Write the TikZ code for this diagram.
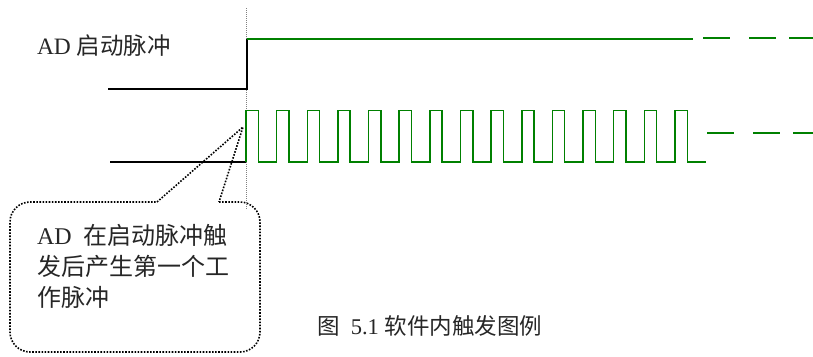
\documentclass[tikz,border=0pt]{standalone}
\usepackage{fontspec}
\setmainfont{Liberation Serif}
\newfontfamily\cjk{Noto Sans CJK SC}
\usepackage{tikz}
\usetikzlibrary{positioning}
\tikzstyle{sigtext}=[
  font={\fontsize{23.5}{28}\selectfont},
  inner sep=0pt,
  outer sep=0pt,
  text=black!85,
]
\tikzstyle{lowline}=[
  draw=black,
  line width=2pt,
]
\tikzstyle{highline}=[
  draw=green!50!black,
  line width=1.8pt,
]
\tikzstyle{pulse}=[
  draw=green!50!black,
  line width=1.5pt,
]
\tikzstyle{tail}=[
  highline,
  dash pattern=on 27pt off 19pt on 27pt off 13pt,
]
\tikzstyle{trigline}=[
  draw=black!50,
  line width=0.8pt,
  dash pattern=on 1pt off 1pt,
]
\tikzstyle{callline}=[
  draw=black,
  line width=1.6pt,
  dash pattern=on 1.6pt off 1.5pt,
]
\tikzstyle{callbox}=[
  rectangle,
  inner sep=0pt,
  outer sep=0pt,
  minimum width=250pt,
  minimum height=150pt,
]
\tikzset{
  x=1pt,
  y=-1pt,
}

\begin{document}
\begin{tikzpicture}
  \useasboundingbox (0,0) rectangle (813,356);
  % trigger instant
  \coordinate (trigtop) at (246,8);
  \coordinate (trigend) at (246,209);
  \draw [trigline] (trigtop) -- (trigend);
  % AD start pulse
  \node (startlabel) [sigtext, anchor=base west] at (37,54) {AD {\cjk 启动脉冲}};
  \coordinate (startlow) at (108,89);
  \coordinate (startedge) at (247,89);
  \coordinate (starthigh) at (247,39);
  \coordinate (startend) at (693,39);
  \coordinate (starttail) at (703,38);
  \coordinate (startout) at (813,38);
  \draw [lowline] (startlow) -- (startedge) -- (starthigh);
  \draw [highline] (starthigh) -- (startend);
  \draw [tail] (starttail) -- (startout);
  % working pulses
  \coordinate (worklow) at (110,162);
  \coordinate (workstart) at (246,162);
  \coordinate (worktail) at (707,133);
  \coordinate (workout) at (813,133);
  \draw [lowline] (worklow) -- (workstart);
  \draw [pulse] (workstart)
    \foreach \i in {1,...,15} { -- ++(0,-51.5) -- ++(12.3,0) -- ++(0,51.5) -- ++(18.34,0) };
  \draw [tail] (worktail) -- (workout);
  % callout
  \node (callbox) [callbox] at (135,277) {};
  \coordinate (calltip) at (243,127);
  \coordinate (callbase1) at (157,202);
  \coordinate (callbase2) at (219,202);
  \draw [callline, rounded corners=20pt] (callbase2) -- (callbox.north east)
    -- (callbox.south east) -- (callbox.south west) -- (callbox.north west) -- (callbase1);
  \draw [callline] (callbase1) -- (calltip) -- (callbase2);
  \node (calltext) [sigtext, font={\fontsize{24}{31}\selectfont}, align=left, anchor=north west]
    at (37,224) {AD\ \ {\cjk 在启动脉冲触}\\{\cjk 发后产生第一个工}\\{\cjk 作脉冲}};
  % caption
  \node (caption) [sigtext, font={\fontsize{22.5}{28}\selectfont}, anchor=base west]
    at (317,334) {{\cjk 图}\ \ 5.1 {\cjk 软件内触发图例}};
\end{tikzpicture}
\end{document}
